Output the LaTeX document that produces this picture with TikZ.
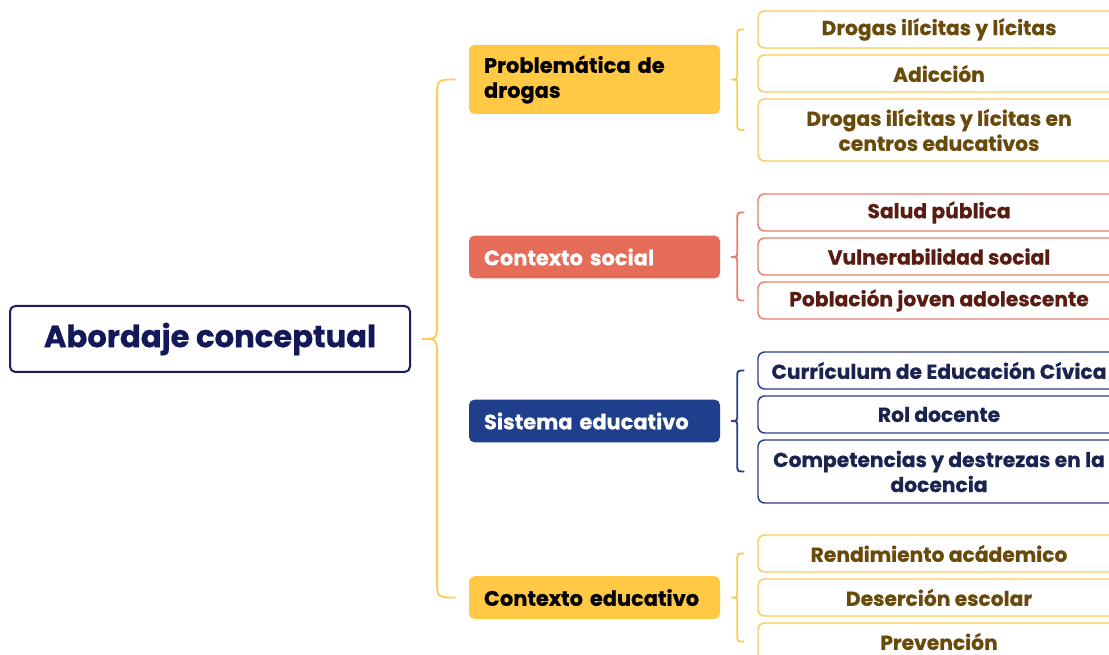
\documentclass[tikz,border=0pt]{standalone}
\usepackage{fontspec}
\setmainfont{Poppins}[BoldFeatures={FakeBold=0.6}]
\usetikzlibrary{calc}

\definecolor{yellowfill}{HTML}{FFC845}
\definecolor{yellowline}{HTML}{FCCB58}
\definecolor{salmonfill}{HTML}{E46C58}
\definecolor{salmonline}{HTML}{E77F6D}
\definecolor{navyfill}{HTML}{1F3E8C}
\definecolor{navyline}{HTML}{2C3F86}
\definecolor{rootline}{HTML}{1A1E5C}
\definecolor{roottext}{HTML}{13185A}
\definecolor{browntext}{HTML}{6A4A0B}
\definecolor{maroontext}{HTML}{5A1C12}
\definecolor{navytext}{HTML}{1B2350}

\tikzset{
  rootbox/.style={draw=rootline, line width=1.5pt, rounded corners=4pt, fill=white,
    text=roottext, minimum width=300pt, minimum height=49.5pt,
    font=\fontsize{23}{27}\selectfont\bfseries},
  topic/.style={rounded corners=4pt, fill=#1, inner xsep=11.25pt, text width=165.75pt,
    align=left, minimum height=32pt, font=\fontsize{15.7}{18.75}\selectfont\bfseries},
  leaf/.style={draw=#1, line width=1.1pt, rounded corners=5pt, fill=white,
    minimum width=271.5pt, minimum height=27.75pt, align=center, inner sep=2pt,
    font=\fontsize{15.2}{18.75}\selectfont\bfseries},
  bracelw/.style={line width=1.4pt, #1}
}

% curly brace: colour, parent node, first leaf, last leaf, radius
\newcommand\grpbrace[5]{%
  \draw[bracelw=#1] let \p1=($(#2.east)+(11,0)$), \p2=($(#3.west)+(-13,0)$),
      \p3=($(#4.west)+(-13,0)$) in
    (\p2) .. controls (\x2-#5,\y2) .. (\x2-#5,\y2-#5)
    -- (\x2-#5,\y1+#5) .. controls (\x2-#5,\y1) .. (\p1)
    .. controls (\x2-#5,\y1) .. (\x2-#5,\y1-#5)
    -- (\x2-#5,\y3+#5) .. controls (\x2-#5,\y3) .. (\p3);
}

\begin{document}
\begin{tikzpicture}[x=.75pt,y=-.75pt]
  \clip (0,0) rectangle (1109,655);
  \fill[white] (0,0) rectangle (1109,655);

  \node[rootbox] (root) at (210,339) {Abordaje conceptual};

  %% topics
  \node[topic=yellowfill, minimum height=51.75pt, text=black] (prob) at (594.5,79.5) {Problemática de\\drogas};
  \node[topic=salmonfill, text=white] (social) at (594.5,257) {Contexto social};
  \node[topic=navyfill, text=white] (sistema) at (594.5,421) {Sistema educativo};
  \node[topic=yellowfill, text=black] (educ) at (594.5,597.5) {Contexto educativo};

  %% leaves of first topic
  \node[leaf=yellowline, text=browntext] (c11) at (939,29.5) {Drogas ilícitas y lícitas};
  \node[leaf=yellowline, text=browntext] (c12) at (939,73.5) {Adicción};
  \node[leaf=yellowline, text=browntext, minimum height=46.5pt] (c13) at (939,130) {Drogas ilícitas y lícitas en\\centros educativos};

  %% leaves of second topic
  \node[leaf=salmonline, text=maroontext] (c21) at (939,212.5) {Salud pública};
  \node[leaf=salmonline, text=maroontext] (c22) at (939,256.5) {Vulnerabilidad social};
  \node[leaf=salmonline, text=maroontext] (c23) at (939,300.5) {Población joven adolescente};

  %% leaves of third topic
  \node[leaf=navyline, text=navytext] (c31) at (939,370.5) {Currículum de Educación Cívica};
  \node[leaf=navyline, text=navytext] (c32) at (939,414.5) {Rol docente};
  \node[leaf=navyline, text=navytext, minimum height=47.25pt] (c33) at (939,471.5) {Competencias y destrezas en la\\docencia};

  %% leaves of fourth topic
  \node[leaf=yellowline, text=browntext] (c41) at (939,553.5) {Rendimiento acádemico};
  \node[leaf=yellowline, text=browntext] (c42) at (939,597.5) {Deserción escolar};
  \node[leaf=yellowline, text=browntext] (c43) at (939,641.5) {Prevención};

  %% braces
  \grpbrace{yellowline}{root}{prob}{educ}{14pt}
  \grpbrace{yellowline}{prob}{c11}{c13}{5.25pt}
  \grpbrace{salmonline}{social}{c21}{c23}{5.25pt}
  \grpbrace{navyline}{sistema}{c31}{c33}{5.25pt}
  \grpbrace{yellowline}{educ}{c41}{c43}{5.25pt}
\end{tikzpicture}
\end{document}
